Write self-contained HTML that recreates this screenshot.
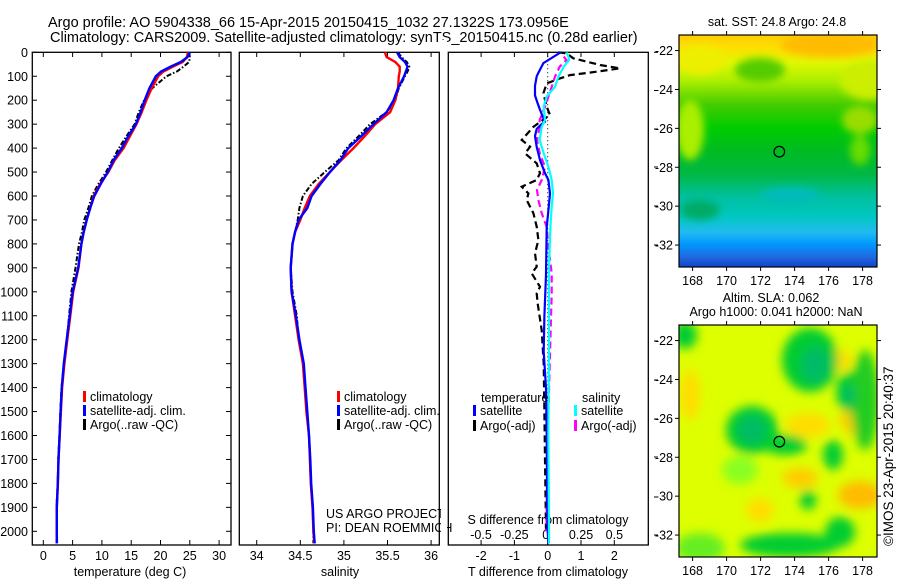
<!DOCTYPE html>
<html><head><meta charset="utf-8">
<style>
body{margin:0;background:#fff;}
svg{display:block;font-family:"Liberation Sans",Arial,sans-serif;}
text{fill:#000;}
</style></head>
<body>
<svg id="fig" width="900" height="580" viewBox="0 0 900 580" xmlns="http://www.w3.org/2000/svg">
<defs>
<linearGradient id="sstgrad" x1="0" y1="0" x2="0" y2="1">
<stop offset="0" stop-color="#ffcc00"/><stop offset="0.05" stop-color="#ffdd00"/>
<stop offset="0.12" stop-color="#e0f800"/><stop offset="0.2" stop-color="#aaee00"/>
<stop offset="0.3" stop-color="#44cc00"/><stop offset="0.4" stop-color="#00cc00"/>
<stop offset="0.5" stop-color="#00bb22"/><stop offset="0.6" stop-color="#00b844"/>
<stop offset="0.7" stop-color="#00c0a0"/><stop offset="0.78" stop-color="#00c8c0"/>
<stop offset="0.85" stop-color="#22bbee"/><stop offset="0.9" stop-color="#0099ff"/>
<stop offset="0.96" stop-color="#2266dd"/><stop offset="1" stop-color="#1144cc"/>
</linearGradient>
<filter id="blur6" x="-50%" y="-50%" width="200%" height="200%"><feGaussianBlur stdDeviation="5"/></filter>
<filter id="blur4" x="-50%" y="-50%" width="200%" height="200%"><feGaussianBlur stdDeviation="4"/></filter>
<clipPath id="m1clip"><rect x="679" y="35" width="198" height="232"/></clipPath>
<clipPath id="m2clip"><rect x="679" y="325" width="198" height="232"/></clipPath>
</defs>
<text x="48" y="27" font-size="14.5">Argo profile: AO 5904338_66 15-Apr-2015 20150415_1032 27.1322S 173.0956E</text>
<text x="50" y="42" font-size="14.5">Climatology: CARS2009. Satellite-adjusted climatology: synTS_20150415.nc (0.28d earlier)</text>
<g id="p1"></g>
<g id="p2"></g>
<g id="p3"></g>
<g id="m1"></g>
<g id="m2"></g>
<text transform="translate(893,546) rotate(-90)" font-size="13.5">©IMOS 23-Apr-2015 20:40:37</text>
</svg>
<script>
// ---- profile data ----
const depths = [0,20,40,60,80,100,150,200,250,300,350,400,450,500,550,600,650,700,750,800,900,1000,1100,1200,1300,1400,1500,1600,1700,1800,1900,2000,2050];
const tClim = [24.7,24.5,23.8,22.1,20.5,19.6,18.5,17.6,16.8,15.9,14.8,13.7,12.2,11.1,9.7,8.6,8.0,7.4,6.9,6.5,6.0,5.1,4.6,4.1,3.6,3.2,3.0,2.8,2.6,2.5,2.3,2.3,2.3];
const tSat = [25.0,24.6,23.5,21.7,20.1,19.2,18.1,17.3,16.6,15.8,14.5,13.4,12.0,11.0,9.8,8.7,8.0,7.4,6.9,6.5,5.95,5.0,4.5,4.0,3.5,3.15,2.95,2.78,2.6,2.48,2.3,2.3,2.32];
const tArgo = [24.9,25.0,24.9,23.9,22.8,21.0,18.6,17.2,16.3,15.6,14.2,12.9,11.8,10.7,9.4,8.3,7.7,7.0,6.6,6.1,5.5,4.8,4.4,4.0,3.5,3.1,2.9,2.75,2.55,2.45,2.25,2.25,2.25];
const sClim = [35.47,35.49,35.59,35.64,35.64,35.63,35.62,35.59,35.53,35.36,35.24,35.11,34.97,34.84,34.71,34.61,34.55,34.50,34.44,34.41,34.39,34.40,34.44,34.48,34.53,34.55,34.57,34.60,34.61,34.62,34.64,34.65,34.66];
const sSat = [35.61,35.64,35.70,35.73,35.71,35.69,35.62,35.57,35.49,35.34,35.20,35.05,34.96,34.84,34.73,34.63,34.58,34.48,34.44,34.41,34.39,34.40,34.45,34.49,34.54,34.56,34.58,34.60,34.615,34.625,34.645,34.655,34.665];
const sArgo = [35.62,35.66,35.72,35.75,35.73,35.70,35.63,35.59,35.49,35.30,35.17,35.03,34.94,34.78,34.63,34.53,34.49,34.47,34.44,34.41,34.39,34.41,34.46,34.48,34.53,34.55,34.57,34.60,34.61,34.62,34.64,34.65,34.65];
// ---- difference data ----
const dTsatDepth = [0,45,85,100,140,180,210,240,275,290,300,320,350,395,450,505,533,590,660,730,930,1100,1250,1400,1600,1800,2000,2050];
const dTsat = [0.39,-0.13,-0.28,-0.33,-0.38,-0.38,-0.31,-0.23,-0.13,-0.08,-0.18,-0.33,-0.38,-0.33,-0.23,-0.08,0.02,0.07,0.02,-0.03,-0.05,-0.1,-0.12,-0.05,-0.03,-0.02,0.0,0.02];
const dTargoDepth = [0,5,25,39,53,67,81,95,109,130,171,227,262,311,366,394,422,464,505,533,561,589,617,672,728,784,839,895,923,979,1007,1050,1160,1300,1500,1700,1900,2000];
const dTargo = [0.32,0.57,0.77,1.17,1.57,2.17,1.47,0.67,0.37,-0.03,-0.13,-0.03,0.07,-0.43,-0.78,-0.53,-0.68,-0.33,-0.23,-0.33,-0.78,-0.58,-0.63,-0.43,-0.33,-0.28,-0.38,-0.33,-0.48,-0.23,-0.33,-0.3,-0.18,-0.12,-0.1,-0.08,-0.06,-0.05];
const dSsatDepth = [0,18,32,60,102,144,185,227,283,311,366,422,478,533,589,645,728,900,1200,1600,2000,2050];
const dSsat = [0.14,0.155,0.16,0.12,0.08,0.055,-0.008,-0.03,-0.02,-0.045,-0.06,-0.03,0.005,0.03,0.04,0.03,0.02,0.01,0.01,0.005,0.01,0.01];
const dSargoDepth = [18,32,60,102,144,185,227,283,311,366,422,478,533,575,617,672,728,811,923,1007,1200,1500,1800,2000];
const dSargo = [0.12,0.14,0.09,0.055,0.03,0.005,-0.02,-0.06,-0.06,-0.08,-0.06,-0.02,-0.045,-0.08,-0.07,-0.045,-0.008,0.005,0.03,0.03,0.02,0.005,-0.005,-0.01];
// ---- tick labels ----
const depthTicks = [0,100,200,300,400,500,600,700,800,900,1000,1100,1200,1300,1400,1500,1600,1700,1800,1900,2000];
const tTicks = [0,5,10,15,20,25,30];
const sTicks = [34,34.5,35,35.5,36];
const dTTicks = [-2,-1,0,1,2];
const dSTicks = [-0.5,-0.25,0,0.25,0.5];
const dSTickLabels = ["-0.5","-0.25","0","0.25","0.5"];
const lonTicks = [168,170,172,174,176,178];
const latTicks = [-22,-24,-26,-28,-30,-32];

const NS='http://www.w3.org/2000/svg';
function mk(parent,tag,attrs){const e=document.createElementNS(NS,tag);for(const k in attrs)e.setAttribute(k,attrs[k]);parent.appendChild(e);return e;}
function txt(parent,x,y,s,size,anchor){const e=mk(parent,'text',{x:x,y:y,'font-size':size||13,'text-anchor':anchor||'start'});e.textContent=s;return e;}

const yD = d => 52.3 + d*0.2395;
const xT = t => 43.3 + 5.86*t;
const xS = s => 256.7 + 87.2*(s-34);
const xDT = t => 547.7 + 33.3*t;
const xDS = s => 547.7 + 133.3*s;

function line(g,xs,ds,fx,color,w,dash,name){
  let d='';
  for(let i=0;i<xs.length;i++){d+=(i?'L':'M')+fx(xs[i]).toFixed(1)+' '+yD(ds[i]).toFixed(1);}
  const p=mk(g,'path',{d:d,fill:'none',stroke:color,'stroke-width':w});
  if(dash)p.setAttribute('stroke-dasharray',dash);
  
  
  return p;
}
function frame(g,x0,x1,name){
  const r=mk(g,'rect',{x:x0,y:52.3,width:x1-x0,height:545-52.3,fill:'none',stroke:'#000','stroke-width':1.3});
  
  
}
function legendBar(g,x,y,color,label,name){
  mk(g,'rect',{x:x,y:y-10,width:3,height:11,fill:color});
  const t=txt(g,x+7,y,label,12.5);
  
  
}

// ---- panel 1 ----
const p1=document.getElementById('p1');
frame(p1,32.3,231,'temperature-plot-frame');
depthTicks.forEach(d=>{
  mk(p1,'line',{x1:32.3,x2:37,y1:yD(d),y2:yD(d),stroke:'#000'});
  mk(p1,'line',{x1:226,x2:231,y1:yD(d),y2:yD(d),stroke:'#000'});
  const t=txt(p1,28,yD(d)+4.5,String(d),12.5,'end');
  
  
});
tTicks.forEach(v=>{
  mk(p1,'line',{x1:xT(v),x2:xT(v),y1:52.3,y2:57,stroke:'#000'});
  mk(p1,'line',{x1:xT(v),x2:xT(v),y1:540,y2:545,stroke:'#000'});
  const t=txt(p1,xT(v),560,String(v),12.5,'middle');
  
  
});
const t1=txt(p1,130,576,'temperature (deg C)',12.5,'middle');


line(p1,tArgo,depths,xT,'#000',2,'5 2 1.5 2','argo-temperature-line');
line(p1,tClim,depths,xT,'#ff0000',2.4,null,'climatology-temperature-line');
line(p1,tSat,depths,xT,'#0000ff',2.4,null,'satellite-temperature-line');
legendBar(p1,83,401,'#ff0000','climatology','legend-climatology');
legendBar(p1,83,415,'#0000ff','satellite-adj. clim.','legend-satellite-adj');
legendBar(p1,83,429,'#000','Argo(..raw -QC)','legend-argo');

// ---- panel 2 ----
const p2=document.getElementById('p2');
frame(p2,239.3,439.3,'salinity-plot-frame');
sTicks.forEach(v=>{
  mk(p2,'line',{x1:xS(v),x2:xS(v),y1:52.3,y2:57,stroke:'#000'});
  mk(p2,'line',{x1:xS(v),x2:xS(v),y1:540,y2:545,stroke:'#000'});
  const t=txt(p2,xS(v),560,String(v),12.5,'middle');
  
  
});
const t2=txt(p2,340,576,'salinity',12.5,'middle');


line(p2,sArgo,depths,xS,'#000',2,'5 2 1.5 2','argo-salinity-line');
line(p2,sClim,depths,xS,'#ff0000',2.4,null,'climatology-salinity-line');
line(p2,sSat,depths,xS,'#0000ff',2.4,null,'satellite-salinity-line');
legendBar(p2,337,401,'#ff0000','climatology','legend-climatology-2');
legendBar(p2,337,415,'#0000ff','satellite-adj. clim.','legend-satellite-adj-2');
legendBar(p2,337,429,'#000','Argo(..raw -QC)','legend-argo-2');
const u1=txt(p2,326,518,'US ARGO PROJECT',12.5);  
const u2=txt(p2,326,532,'PI: DEAN ROEMMICH',12.5);  

// ---- panel 3 ----
const p3=document.getElementById('p3');
mk(p3,'rect',{x:441,y:40,width:6,height:520,fill:'#fff'});
frame(p3,448.3,648.3,'difference-plot-frame');
dTTicks.forEach(v=>{
  mk(p3,'line',{x1:xDT(v),x2:xDT(v),y1:52.3,y2:57,stroke:'#000'});
  mk(p3,'line',{x1:xDT(v),x2:xDT(v),y1:540,y2:545,stroke:'#000'});
  const t=txt(p3,xDT(v),560,String(v),12.5,'middle');
  
  
});
dSTicks.forEach((v,i)=>{
  const t=txt(p3,xDS(v)-(i==2?2:0),539,dSTickLabels[i],12.5,'middle');
  
  
});
[52.3,90.5,129,167,206,245,341,380,419,457,497,535].forEach(y=>mk(p3,'line',{x1:654,x2:658,y1:y,y2:y,stroke:'#000'}));
const t3=txt(p3,548,576,'T difference from climatology',12.5,'middle');


const t4=txt(p3,548,524,'S difference from climatology',12.5,'middle');


const zl=mk(p3,'line',{x1:xDT(0),x2:xDT(0),y1:52.3,y2:545,stroke:'#000','stroke-width':1,'stroke-dasharray':'1 3'});


line(p3,dTargo,dTargoDepth,xDT,'#000',2.2,'7 4','argo-t-difference-line');
line(p3,dSargo,dSargoDepth,xDS,'#ff00ff',2.2,'7 4','argo-s-difference-line');
line(p3,dTsat,dTsatDepth,xDT,'#0000ff',2.2,null,'satellite-t-difference-line');
line(p3,dSsat,dSsatDepth,xDS,'#00ffff',2.2,null,'satellite-s-difference-line');
const lt=txt(p3,481,402,'temperature',12.5);  
const ls=txt(p3,582,402,'salinity',12.5);  
legendBar(p3,473,415,'#0000ff','satellite','legend-t-satellite');
legendBar(p3,473,430,'#000','Argo(-adj)','legend-t-argo');
legendBar(p3,574,415,'#00ffff','satellite','legend-s-satellite');
legendBar(p3,574,430,'#ff00ff','Argo(-adj)','legend-s-argo');

// ---- maps ----
function mapAxes(g,top,name){
  const lx=lon=>679+(lon-167.2)*17;
  const ly=lat=>top+(-21.2-lat)*19.45;
  mk(g,'rect',{x:679,y:top,width:198,height:232,fill:'none',stroke:'#000','stroke-width':1.2});
  lonTicks.forEach(v=>{
    mk(g,'line',{x1:lx(v),x2:lx(v),y1:top-4,y2:top,stroke:'#000'});
    mk(g,'line',{x1:lx(v),x2:lx(v),y1:top+232,y2:top+236,stroke:'#000'});
    const t=txt(g,lx(v),top+250,String(v),12.5,'middle');
    
    
  });
  latTicks.forEach(v=>{
    mk(g,'line',{x1:675,x2:679,y1:ly(v),y2:ly(v),stroke:'#000'});
    mk(g,'line',{x1:877,x2:881,y1:ly(v),y2:ly(v),stroke:'#000'});
    const t=txt(g,673,ly(v)+4.5,String(v),12.5,'end');
    
    
  });
  const c=mk(g,'circle',{cx:lx(173.1),cy:ly(-27.2),r:5.3,fill:'none',stroke:'#000','stroke-width':1.2});
  
  
  return {lx,ly};
}
const m1=document.getElementById('m1');
const g1=mk(m1,'g',{'clip-path':'url(#m1clip)'});
mk(g1,'rect',{x:679,y:35,width:198,height:232,fill:'url(#sstgrad)'});
const b1=mk(g1,'g',{filter:'url(#blur4)'});
[[690,130,14,30,'#aaee00'],[860,120,18,14,'#99dd00'],[870,80,30,20,'#ccee00'],[830,45,50,12,'#ffbb00'],[700,60,25,15,'#eeee00'],[760,70,25,12,'#55cc00'],[860,150,10,15,'#66dd00'],[790,195,30,8,'#00bbbb'],[700,210,20,10,'#00aa66']].forEach(a=>mk(b1,'ellipse',{cx:a[0],cy:a[1],rx:a[2],ry:a[3],fill:a[4]}));
mapAxes(m1,35,'sst-map');
const mt1=txt(m1,777,26,'sat. SST: 24.8 Argo: 24.8',12.5,'middle');



const m2=document.getElementById('m2');
const g2=mk(m2,'g',{'clip-path':'url(#m2clip)'});
mk(g2,'rect',{x:679,y:325,width:198,height:232,fill:'#ddff00'});
const b2=mk(g2,'g',{filter:'url(#blur6)'});
[[808,425,22,12,'#ffdd00'],[858,420,18,15,'#ffcc00'],[690,395,10,25,'#ffdd00'],[860,495,22,14,'#ffbb00'],[800,478,18,10,'#ffcc00'],[760,510,14,12,'#ffdd00'],[840,360,12,10,'#ffdd00'],
 [740,470,18,14,'#88ff22'],[700,548,25,15,'#66ee22'],
 [810,360,28,32,'#00cc33'],[752,430,26,24,'#00cc33'],[785,445,22,10,'#00cc33'],[849,392,13,20,'#00cc33'],[865,400,14,50,'#22cc22'],[833,455,10,15,'#00cc33'],[790,545,50,12,'#00cc33'],[840,532,15,15,'#00cc33'],[808,500,8,10,'#00cc33'],[685,335,12,14,'#00cc33'],
 [815,365,14,18,'#00bb66'],[752,430,14,14,'#00bb66'],[849,395,6,10,'#00bb66']].forEach(a=>mk(b2,'ellipse',{cx:a[0],cy:a[1],rx:a[2],ry:a[3],fill:a[4]}));
mapAxes(m2,325,'sla-map');
const mt2=txt(m2,771,302,'Altim. SLA: 0.062',12.5,'middle');


const mt3=txt(m2,776,316,'Argo h1000: 0.041 h2000: NaN',12.5,'middle');


</script>
</body></html>
